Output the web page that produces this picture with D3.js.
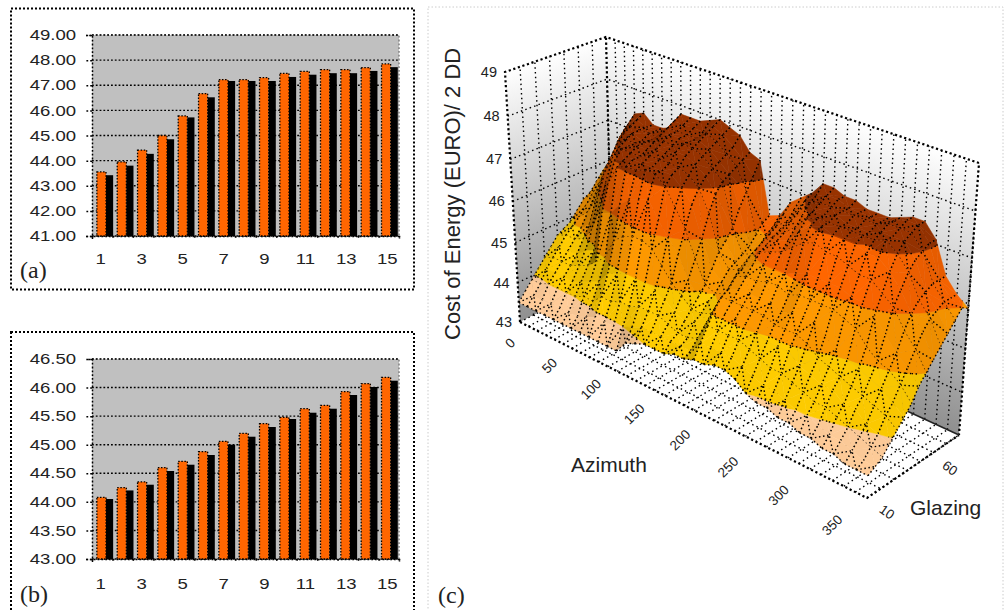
<!DOCTYPE html>
<meta charset="utf-8">
<style>
body{margin:0;background:#fff}
svg{display:block}
text{font-family:'Liberation Sans',Arial,sans-serif;fill:#222}
.tag{font-family:'Liberation Serif','Times New Roman',serif;font-size:24px}
.axis .domain{stroke:#000;stroke-dasharray:1.8 2;stroke-width:1.5}
.axis line{stroke:#000;stroke-dasharray:1.8 2;stroke-width:1.5}
</style>
<svg id="svg" width="1007" height="610"></svg>
<script src="https://d3js.org/d3.v7.min.js"></script>
<script>
// bar charts
var barLabels = d3.range(1, 16)
var aOrange = [43.55,43.95,44.42,45.0,45.78,46.67,47.22,47.22,47.3,47.47,47.55,47.62,47.62,47.7,47.85]
var aBlack  = [43.42,43.8,44.27,44.85,45.72,46.52,47.17,47.17,47.17,47.33,47.42,47.48,47.48,47.57,47.72]
var bOrange = [44.08,44.25,44.35,44.6,44.71,44.88,45.06,45.2,45.37,45.48,45.63,45.69,45.93,46.07,46.18]
var bBlack  = [44.05,44.2,44.3,44.54,44.65,44.82,45.0,45.14,45.31,45.45,45.56,45.63,45.87,46.01,46.12]
var aTicks = [41,42,43,44,45,46,47,48,49]
var bTicks = [43,43.5,44,44.5,45,45.5,46,46.5]

// surface: one array per azimuth, 15 glazing levels in each
var azimuths = d3.range(0, 360, 10)
var azLabels = [0,50,100,150,200,250,300,350]
var glazingLabels = [[0,10],[14,60]]
var zTicks = [43,44,45,46,47,48,49]
var bandEdges = [43,44,45,46,47,48,49]
var bandColors = ['#FFCC99','#FFCC00','#FF9900','#FF6600','#993300','#993300']
var cost = [
[43.5,43.7,43.9,44.1,44.3,44.5,44.7,44.8,44.9,45.1,45.3,45.4,45.6,45.8,45.9],
[43.5,43.7,43.9,44.2,44.4,44.6,44.8,44.95,45.1,45.3,45.5,45.7,45.9,46.2,46.5],
[43.5,43.7,44.0,44.2,44.4,44.6,44.8,45.0,45.3,45.6,45.9,46.2,46.5,46.8,47.0],
[43.5,43.7,44.0,44.2,44.4,44.6,44.9,45.2,45.7,46.1,46.4,46.7,47.0,47.2,47.4],
[43.5,43.7,44.0,44.2,44.5,44.8,45.2,45.9,46.4,46.7,47.0,47.2,47.3,47.4,47.5],
[43.5,43.7,44.0,44.3,44.6,44.9,45.8,46.4,46.9,47.1,47.2,47.3,47.3,47.3,47.3],
[43.5,43.7,44.1,44.4,44.8,45.9,46.5,47.0,47.2,47.2,47.2,47.2,47.3,47.3,47.3],
[43.5,43.8,44.1,44.5,45.0,46.0,47.0,47.1,47.2,47.3,47.3,47.3,47.3,47.4,47.4],
[43.5,43.9,44.3,44.8,45.5,46.3,47.1,47.2,47.2,47.3,47.4,47.5,47.6,47.7,47.8],
[43.5,43.9,44.3,44.9,45.7,46.5,47.1,47.2,47.3,47.4,47.5,47.6,47.6,47.7,47.8],
[43.5,43.9,44.4,45.0,45.8,46.6,47.2,47.2,47.3,47.4,47.5,47.6,47.6,47.7,47.8],
[43.5,44.0,44.4,45.0,45.8,46.7,47.2,47.2,47.3,47.5,47.6,47.6,47.6,47.7,47.9],
[43.8,44.1,44.5,45.0,45.7,46.3,47.0,47.2,47.3,47.5,47.6,47.7,47.8,47.9,48.0],
[43.9,44.2,44.5,44.9,45.4,46.0,46.6,47.0,47.2,47.4,47.5,47.6,47.7,47.8,47.9],
[44.0,44.2,44.5,44.8,45.1,45.7,46.2,46.7,47.0,47.2,47.3,47.4,47.5,47.6,47.8],
[44.0,44.2,44.4,44.6,44.9,45.2,45.6,46.0,46.5,46.9,47.1,47.2,47.3,47.4,47.5],
[44.0,44.2,44.3,44.5,44.7,44.9,45.1,45.4,45.7,45.9,46.1,46.5,46.8,47.1,47.4],
[44.1,44.2,44.3,44.6,44.7,44.9,45.0,45.2,45.4,45.5,45.6,45.7,45.9,46.1,46.2],
[44.1,44.2,44.4,44.6,44.8,45.0,45.1,45.3,45.5,45.6,45.7,45.8,46.0,46.1,46.3],
[44.2,44.5,44.8,45.1,45.3,45.4,45.6,45.7,45.9,46.0,46.1,46.2,46.3,46.5,46.7],
[44.2,44.5,44.8,45.1,45.3,45.5,45.7,45.9,46.1,46.2,46.3,46.4,46.5,46.7,46.9],
[44.3,44.5,44.8,45.1,45.3,45.5,45.7,46.0,46.2,46.4,46.5,46.7,46.8,47.0,47.1],
[44.3,44.5,44.8,45.1,45.3,45.5,45.8,46.0,46.3,46.5,46.7,46.9,47.1,47.2,47.4],
[44.2,44.4,44.7,45.0,45.3,45.5,45.8,46.0,46.5,46.8,47.0,47.1,47.2,47.3,47.4],
[44.0,44.3,44.6,44.9,45.2,45.4,45.7,46.1,46.7,47.0,47.1,47.1,47.2,47.3,47.3],
[43.9,44.2,44.5,44.9,45.2,45.5,45.8,46.2,46.8,47.1,47.1,47.2,47.2,47.2,47.3],
[43.9,44.2,44.5,44.9,45.2,45.5,45.8,46.2,46.7,47.0,47.1,47.1,47.2,47.2,47.2],
[43.8,44.1,44.4,44.7,45.1,45.5,45.8,46.2,46.7,47.0,47.1,47.1,47.2,47.2,47.2],
[43.8,44.0,44.3,44.6,44.9,45.3,45.8,46.2,46.6,47.0,47.1,47.1,47.2,47.2,47.2],
[43.7,44.0,44.2,44.5,44.8,45.1,45.7,46.1,46.5,46.9,47.1,47.2,47.3,47.3,47.3],
[43.7,43.9,44.2,44.5,44.7,45.0,45.6,46.1,46.5,46.9,47.2,47.2,47.3,47.4,47.4],
[43.6,43.8,44.1,44.3,44.6,44.9,45.3,45.9,46.3,46.7,47.0,47.2,47.3,47.4,47.4],
[43.6,43.8,44.0,44.3,44.5,44.8,45.1,45.6,46.1,46.4,46.7,46.9,47.0,47.1,47.1],
[43.5,43.7,43.9,44.1,44.4,44.7,45.0,45.3,45.7,46.0,46.2,46.3,46.4,46.4,46.4],
[43.5,43.6,43.8,44.0,44.3,44.5,44.8,45.1,45.4,45.7,45.9,46.0,46.1,46.1,46.1],
[43.5,43.6,43.7,43.9,44.1,44.3,44.5,44.8,45.0,45.2,45.4,45.6,45.8,46.0,45.9]
]

var svg = d3.select('#svg')

// panel frames
function frame(x, y, w, h, col, wd, dash) {
  svg.append('rect').attr('x', x).attr('y', y).attr('width', w).attr('height', h)
    .attr('fill', 'none').attr('stroke', col).attr('stroke-width', wd).attr('stroke-dasharray', dash)
}
frame(11, 8.5, 403, 281, '#000', 2, '2 2')
frame(11, 332, 403, 290, '#000', 2, '2 2')
frame(428, 7, 575, 620, '#ccc', 1, '1.5 2')

function barChart(top, bottom, domain, ticks, orange, black, labelDrop) {
  var x = d3.scaleBand().domain(barLabels).range([92, 399]).paddingInner(0.2).paddingOuter(0.15).align(0.8)
  var xMid = d3.scaleBand().domain(barLabels).range([92, 399])
  var xEdge = d3.scaleLinear().domain([0, 15]).range([92, 399])
  var series = d3.scaleBand().domain([0, 1]).range([0, x.bandwidth()])
  var y = d3.scaleLinear().domain(domain).range([bottom, top])
  var g = svg.append('g')

  g.append('rect').attr('x', 92).attr('y', top).attr('width', 307).attr('height', bottom - top).attr('fill', '#C0C0C0')
  g.append('path').attr('d', d3.line()([[92, top], [399, top], [399, bottom]]))
    .attr('fill', 'none').attr('stroke', '#808080').attr('stroke-width', 1.5).attr('stroke-dasharray', '1.8 2')

  g.selectAll('.grid').data(ticks).join('line').attr('class', 'grid')
    .attr('x1', 92).attr('x2', 399).attr('y1', y).attr('y2', y)
    .attr('stroke', '#000').attr('stroke-width', 1.4).attr('stroke-dasharray', '1.8 2')

  g.selectAll('.org').data(orange).join('rect').attr('class', 'org')
    .attr('x', (d, i) => x(barLabels[i]) + series(0))
    .attr('y', d => y(d)).attr('width', series.bandwidth() + 1).attr('height', d => bottom - y(d))
    .attr('fill', '#FF6600').attr('stroke', '#000').attr('stroke-width', 1.3).attr('stroke-dasharray', '1.5 1.6')
  g.selectAll('.blk').data(black).join('rect').attr('class', 'blk')
    .attr('x', (d, i) => x(barLabels[i]) + series(1) + 1)
    .attr('y', d => y(d)).attr('width', series.bandwidth() - 1).attr('height', d => bottom - y(d))
    .attr('fill', '#000')

  var ya = g.append('g').attr('class', 'axis').attr('transform', 'translate(92,0)')
    .call(d3.axisLeft(y).tickValues(ticks).tickSize(6).tickPadding(10).tickFormat(d3.format('.2f')))
  ya.selectAll('text').attr('font-size', 14.5).attr('transform', 'scale(1.28,1)').attr('x', -12.4)

  g.append('g').attr('class', 'axis').attr('transform', 'translate(0,' + bottom + ')')
    .call(d3.axisBottom(xEdge).ticks(15).tickSize(3).tickFormat(''))
  var xa = g.append('g').attr('transform', 'translate(-1.5,' + (bottom + labelDrop) + ')')
    .call(d3.axisBottom(xMid).tickValues(barLabels.filter(d => d % 2)).tickSize(0))
  xa.select('.domain').remove()
  xa.selectAll('text').attr('font-size', 14.5).attr('transform', 'scale(1.28,1)')
}
barChart(35, 236, [41, 49], aTicks, aOrange, aBlack, 15)
barChart(359, 559, [43, 46.5], bTicks, bOrange, bBlack, 17)

svg.append('text').attr('class', 'tag').attr('x', 20).attr('y', 278).text('(a)')
svg.append('text').attr('class', 'tag').attr('x', 20).attr('y', 602).text('(b)')
svg.append('text').attr('class', 'tag').attr('x', 438).attr('y', 603).text('(c)')

// ---- 3d box. corners: A az0/low, F az350/low, R az350/high, B az0/high
var floorQuad = [[520,322],[867,498],[959,435],[612,275]]
var topQuad = [[505,72],[880,212],[979,163],[606,37]]

function homography(q) {
  var dx1 = q[1][0]-q[2][0], dx2 = q[3][0]-q[2][0], sx = q[0][0]-q[1][0]+q[2][0]-q[3][0]
  var dy1 = q[1][1]-q[2][1], dy2 = q[3][1]-q[2][1], sy = q[0][1]-q[1][1]+q[2][1]-q[3][1]
  var den = dx1*dy2-dx2*dy1
  var g = (sx*dy2-dx2*sy)/den, h = (dx1*sy-sx*dy1)/den
  var a = q[1][0]-q[0][0]+g*q[1][0], b = q[3][0]-q[0][0]+h*q[3][0], c = q[0][0]
  var d = q[1][1]-q[0][1]+g*q[1][1], e = q[3][1]-q[0][1]+h*q[3][1], f = q[0][1]
  return (u, v) => {
    var w = g*u+h*v+1
    return [(a*u+b*v+c)/w, (d*u+e*v+f)/w]
  }
}
var floorH = homography(floorQuad), topH = homography(topQuad)
var uScale = d3.scaleLinear().domain([0, azimuths.length - 1]).range([0, 1])
var vScale = d3.scaleLinear().domain([0, 14]).range([0, 1])
var zScale = d3.scaleLinear().domain([43, 49]).range([0, 1])

// i = azimuth index, k = glazing index, z = cost
function project(i, k, z) {
  var u = uScale(i), v = vScale(k), t = zScale(z)
  t = t / (t + (1 - t) * 1.074)
  var p = floorH(u, v), q = topH(u, v)
  return [p[0] + (q[0] - p[0]) * t, p[1] + (q[1] - p[1]) * t]
}
var line = d3.line()
var maxI = azimuths.length - 1

// wall shading runs square to each wall's top edge
var defs = svg.append('defs')
function wallGrad(id, from, to) {
  var gr = defs.append('linearGradient').attr('id', id).attr('gradientUnits', 'userSpaceOnUse')
    .attr('x1', from[0]).attr('y1', from[1]).attr('x2', to[0]).attr('y2', to[1])
  gr.append('stop').attr('offset', 0).attr('stop-color', '#ffffff')
  gr.append('stop').attr('offset', 1).attr('stop-color', '#8f8f8f')
}
wallGrad('wallL', [505,72], [584,300])
wallGrad('wallB', [606,37], [521.5,287])

var box = svg.append('g')
box.append('path').attr('d', line([project(0,0,43),project(0,14,43),project(0,14,49),project(0,0,49)]) + 'Z').attr('fill', 'url(#wallL)')
box.append('path').attr('d', line([project(0,14,43),project(maxI,14,43),project(maxI,14,49),project(0,14,49)]) + 'Z').attr('fill', 'url(#wallB)')
box.append('path').attr('d', line([project(0,0,43),project(maxI,0,43),project(maxI,14,43),project(0,14,43)]) + 'Z').attr('fill', '#fff')

var thin = []
zTicks.slice(1, -1).forEach(z => {
  thin.push([project(0,0,z), project(0,14,z), project(maxI,14,z)])
})
d3.range(2, 14, 2).forEach(k => {
  thin.push([project(0,k,43), project(0,k,49)])
  thin.push([project(0,k,43), project(maxI,k,43)])
})
azimuths.forEach((a, i) => {
  thin.push([project(i,14,43), project(i,14,49)])
  thin.push([project(i,0,43), project(i,14,43)])
})
box.selectAll('.thin').data(thin).join('path').attr('class', 'thin')
  .attr('d', d => line(d)).attr('fill', 'none').attr('stroke', '#000')
  .attr('stroke-width', 1.4).attr('stroke-dasharray', '1.5 3.2')

var heavy = [
  [project(0,0,43), project(0,0,49), project(0,14,49), project(maxI,14,49), project(maxI,14,43)],
  [project(0,14,43), project(0,14,49)],
  [project(0,0,43), project(maxI,0,43), project(maxI,14,43)]
]
box.selectAll('.heavy').data(heavy).join('path').attr('class', 'heavy')
  .attr('d', d => line(d)).attr('fill', 'none').attr('stroke', '#000')
  .attr('stroke-width', 2.2).attr('stroke-dasharray', '2.2 2.6')
box.append('path').attr('d', line([project(0,14,43), project(maxI,14,43)])).attr('fill','none').attr('stroke','#222').attr('stroke-width',1.5)

// surface pieces, back to front
function clipAbove(poly, lim, sign) {
  var out = []
  poly.forEach((p, n) => {
    var q = poly[(n + 1) % poly.length]
    var pin = sign * (p[2] - lim) >= 0, qin = sign * (q[2] - lim) >= 0
    if (pin) out.push(p)
    if (pin !== qin) {
      var s = (lim - p[2]) / (q[2] - p[2])
      out.push([p[0] + (q[0]-p[0])*s, p[1] + (q[1]-p[1])*s, lim])
    }
  })
  return out
}
function shadeColor(base, f) {
  var c = d3.rgb(base)
  return d3.rgb(c.r * f, c.g * f, c.b * f).formatHex()
}
function proj(p) { return project(p[0], p[1], p[2]) }

var pieces = []
for (var k = 13; k >= 0; k--) {
  for (var i = 0; i < maxI; i++) {
    var p00 = [i, k, cost[i][k]], p10 = [i+1, k, cost[i+1][k]]
    var p11 = [i+1, k+1, cost[i+1][k+1]], p01 = [i, k+1, cost[i][k+1]]
    var alt = (i + k) % 2 === 0
    var tris = alt ? [[p00,p10,p11],[p00,p11,p01]] : [[p00,p10,p01],[p10,p11,p01]]
    var slope = ((p10[2] + p11[2]) - (p00[2] + p01[2])) / 2
    var f = slope > 0 ? 1 - Math.min(0.42, slope * 0.7) : 1 - Math.min(0.14, -slope * 0.14)
    var mesh = []
    tris.forEach(tri => {
      bandColors.forEach((col, b) => {
        var poly = clipAbove(clipAbove(tri, bandEdges[b], 1), bandEdges[b+1], -1)
        if (poly.length > 2) pieces.push({d: line(poly.map(proj)) + 'Z', fill: shadeColor(col, f)})
      })
      // band boundary, drawn dotted like the mesh
      bandEdges.slice(1, -1).forEach(lev => {
        var hits = []
        tri.forEach((p, n) => {
          var q = tri[(n + 1) % 3]
          if ((p[2] - lev) * (q[2] - lev) < 0) {
            var s = (lev - p[2]) / (q[2] - p[2])
            hits.push([p[0] + (q[0]-p[0])*s, p[1] + (q[1]-p[1])*s, lev])
          }
        })
        if (hits.length === 2) mesh.push([proj(hits[0]), proj(hits[1])])
      })
    })
    // verticals on every cell, the cross lines only on every other row
    mesh.push([proj(p00), proj(p01)], [proj(p10), proj(p11)])
    if (k % 2 === 0) mesh.push([proj(p00), proj(p10)], alt ? [proj(p00), proj(p11)] : [proj(p10), proj(p01)])
    pieces.push({d: mesh.map(m => line(m)).join(''), mesh: true})
  }
}
svg.append('g').selectAll('path').data(pieces).join('path')
  .attr('d', d => d.d)
  .attr('fill', d => d.mesh ? 'none' : d.fill)
  .attr('stroke', d => d.mesh ? '#000' : d.fill)
  .attr('stroke-width', d => d.mesh ? 1.4 : 0.5)
  .attr('stroke-dasharray', d => d.mesh ? '1.5 2.6' : null)

// 3d labels
svg.append('g').selectAll('text').data(zTicks).join('text')
  .attr('x', d => project(0,0,d)[0] - 8).attr('y', d => project(0,0,d)[1] + 5)
  .attr('text-anchor', 'end').attr('font-size', 14.5).text(d => d)
var azOffX = d3.scaleLinear().domain([0, 350]).range([-10, -35])
var azOffY = d3.scaleLinear().domain([0, 350]).range([21, 27])
svg.append('g').selectAll('text').data(azLabels).join('text')
  .attr('transform', d => {
    var p = project(d / 10, 0, 43)
    return 'translate(' + (p[0] + azOffX(d)) + ',' + (p[1] + azOffY(d)) + ') rotate(-45)'
  })
  .attr('text-anchor', 'middle').attr('dy', '0.35em').attr('font-size', 13.5).text(d => d)
svg.append('g').selectAll('text').data(glazingLabels).join('text')
  .attr('transform', d => {
    var p = project(maxI, d[0], 43)
    return 'translate(' + (p[0] + 20 - d[0] * 2.07) + ',' + (p[1] + 14 + d[0] * 1.36) + ') rotate(35)'
  })
  .attr('text-anchor', 'middle').attr('dy', '0.35em').attr('font-size', 13.5).text(d => d[1])

svg.append('text').attr('x', 571).attr('y', 472).attr('font-size', 21).text('Azimuth')
svg.append('text').attr('x', 910).attr('y', 515).attr('font-size', 21).text('Glazing')
svg.append('text').attr('transform', 'translate(460,340) rotate(-90)').attr('font-size', 22).text('Cost of Energy (EURO)/ 2 DD')
</script>
